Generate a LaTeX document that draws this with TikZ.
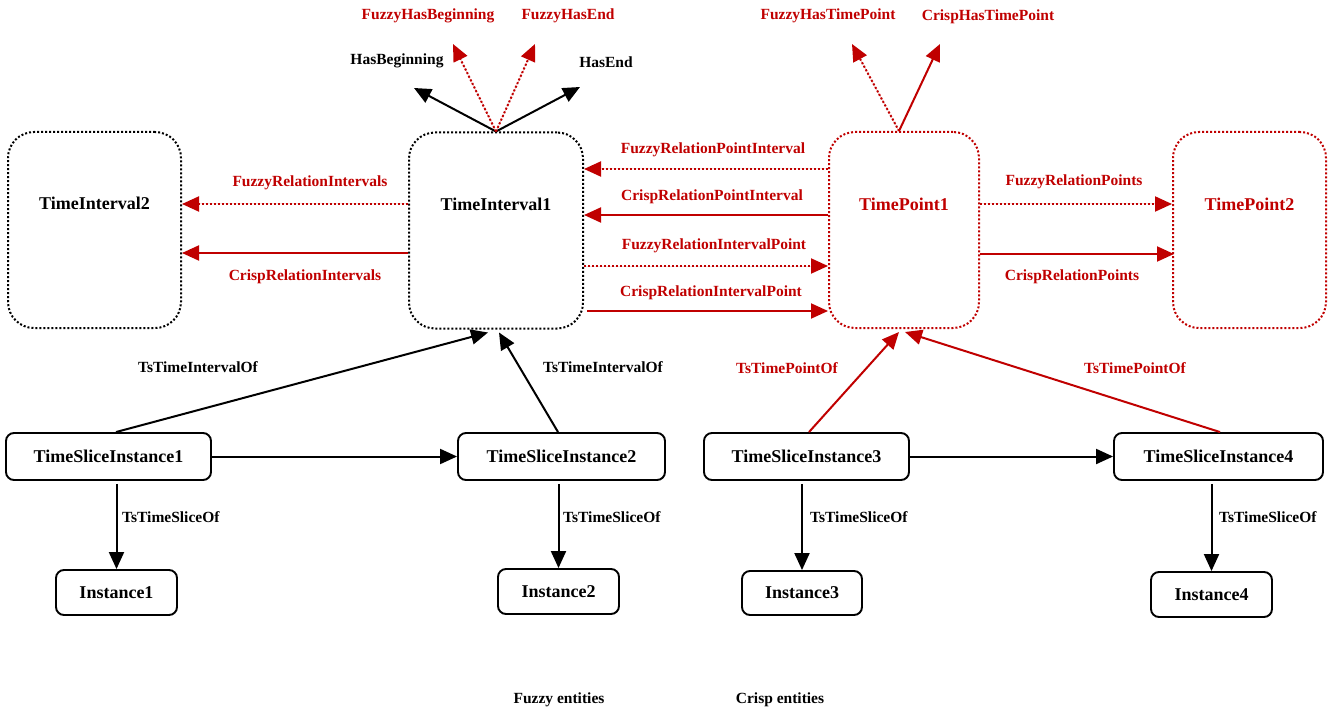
\documentclass[tikz,border=0pt]{standalone}
\usepackage{fontspec}
\setmainfont{Liberation Serif}
\usetikzlibrary{arrows.meta,calc}
\definecolor{cr}{RGB}{192,0,0}
\begin{document}
\begin{tikzpicture}[x=1pt,y=-1pt,
  bigbox/.style={draw, rounded corners=26pt, line width=2pt, dash pattern=on 2pt off 2pt, minimum height=196pt, inner sep=0pt},
  smallbox/.style={draw, rounded corners=8pt, line width=1.9pt, inner sep=0pt, font=\bfseries\fontsize{18}{21}\selectfont},
  nlab/.style={font=\bfseries\fontsize{18}{21}\selectfont, inner sep=0pt},
  elab/.style={font=\bfseries\fontsize{15.5}{18}\selectfont, inner sep=0pt},
  arr/.style={-{Triangle[length=17pt,width=15pt]}, line width=2pt},
  redarr/.style={arr, draw=cr, fill=cr},
  dotline/.style={dash pattern=on 2pt off 2pt}
]
\useasboundingbox (0,0) rectangle (1332,727);

% big boxes
\node[bigbox, minimum width=173pt] (ti2) at (94.5,230) {};
\node[bigbox, minimum width=174pt] (ti1) at (496,230.5) {};
\node[bigbox, draw=cr, minimum width=150pt] (tp1) at (904,230) {};
\node[bigbox, draw=cr, minimum width=153pt] (tp2) at (1249.5,230) {};
\node[nlab] (ti2t) at ([yshift=27pt]ti2.center) {TimeInterval2};
\node[nlab] (ti1t) at ([yshift=26pt]ti1.center) {TimeInterval1};
\node[nlab, text=cr] (tp1t) at ([yshift=26pt]tp1.center) {TimePoint1};
\node[nlab, text=cr] (tp2t) at ([yshift=26pt]tp2.center) {TimePoint2};

% top arrows of TimeInterval1
\coordinate (hb) at (414,88);
\coordinate (he) at (580,87);
\coordinate (fhb) at (453,44);
\coordinate (fhe) at (535,44);
\draw[arr] (ti1.north) -- (hb);
\draw[arr] (ti1.north) -- (he);
\draw[redarr, dotline] (ti1.north) -- (fhb);
\draw[redarr, dotline] (ti1.north) -- (fhe);
\node[elab] (lhb) at (397,61) {HasBeginning};
\node[elab] (lhe) at (606,62) {HasEnd};
\node[elab, text=cr] (lfhb) at (428,16) {FuzzyHasBeginning};
\node[elab, text=cr] (lfhe) at (568,16) {FuzzyHasEnd};

% top arrows of TimePoint1
\coordinate (fhtp) at (852,44);
\coordinate (chtp) at (940,44);
\draw[redarr, dotline] ([xshift=-5pt]tp1.north) -- (fhtp);
\draw[redarr] ([xshift=-5pt]tp1.north) -- (chtp);
\node[elab, text=cr] (lfhtp) at (828,16) {FuzzyHasTimePoint};
\node[elab, text=cr] (lchtp) at (988,17) {CrispHasTimePoint};

% relations between intervals
\draw[redarr, dotline] ([yshift=26.5pt]ti1.west) -- ([yshift=26pt]ti2.east);
\draw[redarr] ([yshift=-22.5pt]ti1.west) -- ([yshift=-23pt]ti2.east);
\node[elab, text=cr] (lfri) at (310,183) {FuzzyRelationIntervals};
\node[elab, text=cr] (lcri) at (305,277) {CrispRelationIntervals};

% relations point/interval
\draw[redarr, dotline] ([yshift=61pt]tp1.west) -- ([yshift=61.5pt]ti1.east);
\draw[redarr] ([yshift=15pt]tp1.west) -- ([yshift=15.5pt]ti1.east);
\draw[redarr, dotline] ([yshift=-35.5pt]ti1.east) -- ([yshift=-36pt]tp1.west);
\draw[redarr] ([xshift=3pt,yshift=-80.5pt]ti1.east) -- ([yshift=-81pt]tp1.west);
\node[elab, text=cr] (lfrpi) at (713,150) {FuzzyRelationPointInterval};
\node[elab, text=cr] (lcrpi) at (712,197) {CrispRelationPointInterval};
\node[elab, text=cr] (lfrip) at (714,246) {FuzzyRelationIntervalPoint};
\node[elab, text=cr] (lcrip) at (711,293) {CrispRelationIntervalPoint};

% relations between points
\draw[redarr, dotline] ([yshift=26pt]tp1.east) -- ([yshift=26pt]tp2.west);
\draw[redarr] ([yshift=-24pt]tp1.east) -- ([xshift=2pt,yshift=-24pt]tp2.west);
\node[elab, text=cr] (lfrp) at (1074,182) {FuzzyRelationPoints};
\node[elab, text=cr] (lcrp) at (1072,277) {CrispRelationPoints};

% lower nodes
\node[smallbox, minimum width=205pt, minimum height=47pt] (tsi1) at (108.5,456.5) {TimeSliceInstance1};
\node[smallbox, minimum width=207pt, minimum height=47pt] (tsi2) at (561.5,456.5) {TimeSliceInstance2};
\node[smallbox, minimum width=205pt, minimum height=47pt] (tsi3) at (806.5,456.5) {TimeSliceInstance3};
\node[smallbox, minimum width=209pt, minimum height=47pt] (tsi4) at (1218.5,456.5) {TimeSliceInstance4};
\node[smallbox, minimum width=121pt, minimum height=45pt] (in1) at (116.5,592.5) {Instance1};
\node[smallbox, minimum width=121pt, minimum height=45pt] (in2) at (558.5,591.5) {Instance2};
\node[smallbox, minimum width=120pt, minimum height=44pt] (in3) at (802,593) {Instance3};
\node[smallbox, minimum width=121pt, minimum height=45pt] (in4) at (1211.5,594.5) {Instance4};

% time slice arrows
\draw[arr] ([xshift=7.5pt]tsi1.north) -- ([xshift=-8pt,yshift=-3pt]ti1.south);
\draw[arr] ([xshift=-3.5pt]tsi2.north) -- ([xshift=3pt,yshift=-3pt]ti1.south);
\draw[arr] (tsi1.east) -- (tsi2.west);
\draw[arr] ([yshift=-3pt]tsi1.south -| in1.north) -- (in1.north);
\draw[arr] ([yshift=-3pt]tsi2.south -| in2.north) -- (in2.north);
\node[elab] (ltio1) at (198,367) {TsTimeIntervalOf};
\node[elab] (ltio2) at (603,367) {TsTimeIntervalOf};
\node[elab, anchor=west] (ltso1) at (122,517) {TsTimeSliceOf};
\node[elab, anchor=west] (ltso2) at (563,517) {TsTimeSliceOf};

\draw[redarr] ([xshift=2.5pt]tsi3.north) -- ([xshift=-5pt,yshift=-3pt]tp1.south);
\draw[redarr] ([xshift=1.5pt]tsi4.north) -- ([xshift=1pt,yshift=-3pt]tp1.south);
\draw[arr] (tsi3.east) -- (tsi4.west);
\draw[arr] ([yshift=-3pt]tsi3.south -| in3.north) -- (in3.north);
\draw[arr] ([yshift=-3pt]tsi4.south -| in4.north) -- (in4.north);
\node[elab, text=cr] (ltpo1) at (787,368) {TsTimePointOf};
\node[elab, text=cr] (ltpo2) at (1135,368) {TsTimePointOf};
\node[elab, anchor=west] (ltso3) at (810,517) {TsTimeSliceOf};
\node[elab, anchor=west] (ltso4) at (1219,517) {TsTimeSliceOf};

% legend
\node[elab] (fe) at (559,700) {Fuzzy entities};
\node[elab] (ce) at (780,700) {Crisp entities};
\end{tikzpicture}
\end{document}
